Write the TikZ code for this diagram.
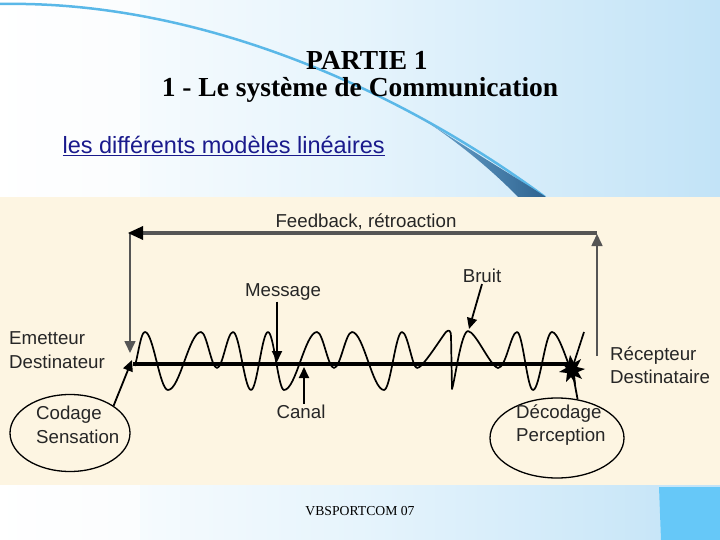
\documentclass[tikz,border=0pt]{standalone}
\usepackage{fontspec}
\setmainfont{Liberation Serif}
\setsansfont{Liberation Sans}
\usetikzlibrary{arrows.meta,shapes.geometric}
\definecolor{beige}{HTML}{FDF5E2}
\definecolor{skyR}{HTML}{C2E3F7}
\definecolor{skyM}{HTML}{E6F4FC}
\definecolor{curveblue}{HTML}{5AB8E8}
\definecolor{swdark}{HTML}{2E6390}
\definecolor{swlight}{HTML}{6FA9D2}
\definecolor{boxblue}{HTML}{66C8F8}
\definecolor{linkblue}{HTML}{1A1A8C}
\definecolor{fbgray}{HTML}{555555}
\definecolor{txt}{HTML}{262626}
\tikzset{
  lbl/.style={font=\sffamily\fontsize{18.7}{23.5}\selectfont, text=txt, inner sep=1pt},
  arr/.style={-{Triangle[length=11pt,width=10pt]}, line width=1.8pt, draw=black},
  varr/.style={-{Triangle[length=12pt,width=11pt]}, line width=1.6pt, draw=fbgray},
  oval/.style={draw=black, line width=1.3pt, ellipse, inner sep=0pt},
  wave/.style={line width=1.7pt, draw=black, line join=round}
}
\begin{document}
\begin{tikzpicture}[x=1pt,y=-1pt]
\useasboundingbox (0,0) rectangle (720,540);
% slide background
\shade[left color=white, right color=skyR, middle color=skyM] (0,0) rectangle (720,540);
\fill[white, opacity=0.6] (0,0) rectangle (140,540);
% decorative curve
\draw[curveblue, line width=2.5pt] (0,4) .. controls (200,0) and (400,90) .. (545,197);
\shade[left color=swlight, right color=swdark] (418,116) .. controls (470,150) and (520,180) .. (546,197) -- (518,197) .. controls (490,168) and (455,140) .. (418,116);
% bottom-right block
\fill[boxblue] (659,487) -- (720,487) -- (720,540) -- (661,540) -- cycle;
% titles
\node[font=\bfseries\fontsize{27.5}{30}\selectfont] (t1) at (367,60) {PARTIE 1};
\node[font=\bfseries\fontsize{27.5}{30}\selectfont] (t2) at (360,90) {1 - Le système de Communication};
\node[anchor=west, font=\sffamily\fontsize{23.5}{28}\selectfont, text=linkblue] (sub) at (59,146) {\underline{les différents modèles linéaires}};
% diagram panel
\fill[beige] (0,197) rectangle (720,485);
% footer
\node[font=\fontsize{13.7}{16}\selectfont] (foot) at (360,511) {VBSPORTCOM 07};
% labels
\node[lbl] (fb) at (366,222) {Feedback, rétroaction};
\node[lbl] (msg) at (283,292) {Message};
\node[lbl] (bruit) at (482,276) {Bruit};
\node[lbl] (canal) at (301,412) {Canal};
\node[lbl, anchor=west, align=left] (em) at (8,350) {Emetteur\\Destinateur};
\node[lbl, anchor=west, align=left] (rec) at (609,365) {Récepteur\\Destinataire};
% ovals
\node[oval, minimum width=120pt, minimum height=77pt] (cod) at (70,433) {};
\node[lbl, anchor=west, align=left] (codt) at (35,425) {Codage\\Sensation};
\node[oval, minimum width=134pt, minimum height=80pt] (dec) at (557,438) {};
\node[lbl, anchor=west, align=left] (dect) at (515,425) {Décodage\\Perception};
% feedback loop
\coordinate (fbL) at (130,233);
\coordinate (fbR) at (597,233);
\coordinate (emT) at (130,353);
\coordinate (recB) at (597,356);
\coordinate (recT) at (597,234);
\draw[varr] (fbL) -- (emT);
\draw[varr] (recB) -- (recT);
\draw[line width=4pt, draw=fbgray] (fbR) -- (140,233);
\fill[black] (128,233) -- (143,226) -- (143,240) -- cycle;
% baseline
\draw[line width=3.5pt] (133,364) -- (570,364);
% wave
\draw[wave] (135,366) .. controls (139,350) and (141,332) .. (145,332)
  .. controls (153.3,332) and (159.7,390) .. (168,390)
  .. controls (179.9,390) and (189.1,332) .. (201,332)
  .. controls (206.8,332) and (211.2,368) .. (217,368)
  .. controls (222.8,368) and (227.2,332) .. (233,332)
  .. controls (239.5,332) and (244.5,390) .. (251,390)
  .. controls (257.1,390) and (261.9,332) .. (268,332)
  .. controls (273.8,332) and (278.2,390) .. (284,390)
  .. controls (295.9,390) and (305.1,332) .. (317,332)
  .. controls (323.1,332) and (327.9,368) .. (334,368)
  .. controls (340.5,368) and (345.5,332) .. (352,332)
  .. controls (363.5,332) and (372.5,390) .. (384,390)
  .. controls (390.5,390) and (395.5,332) .. (402,332)
  .. controls (407.8,332) and (412.2,368) .. (417,368)
  .. controls (422,369) and (441,338) .. (446,332)
  .. controls (449,329) and (451,331) .. (451,336)
  -- (452,389)
  .. controls (455,380) and (461,332) .. (468,331)
  .. controls (476,332) and (490,366) .. (498,368)
  .. controls (506.1,368) and (510.9,332) .. (517,332)
  .. controls (522.8,332) and (527.2,390) .. (533,390)
  .. controls (539.8,390) and (545.2,332) .. (552,332)
  .. controls (557.4,332) and (564,352) .. (570,368);
% burst
\coordinate (burst) at (572,369);
\fill[black] (burst) ++(-10,-6) -- ++(6,1) -- ++(2,-9) -- ++(4,8) -- ++(7,-4) -- ++(-4,8) -- ++(8,2) -- ++(-7,3) -- ++(4,7) -- ++(-7,-3) -- ++(1,9) -- ++(-5,-8) -- ++(-5,5) -- ++(1,-9) -- ++(-8,-1) -- ++(7,-4) -- cycle;
\coordinate (wEnd) at (584,332);
\draw[wave] (burst) -- (wEnd);
% arrows
\coordinate (msgT) at (277,362);
\coordinate (canT) at (304,367);
\coordinate (bruT) at (469,329);
\coordinate (codT) at (132,360);
\draw[arr] (msg.south -| msgT) -- (msgT);
\draw[arr] (canal.north -| canT) -- (canT);
\draw[arr] (bruit.south) -- (bruT);
\draw[arr] (cod.32) -- (codT);
\draw[line width=1.8pt] (dec.62) -- (burst);
\end{tikzpicture}
\end{document}
